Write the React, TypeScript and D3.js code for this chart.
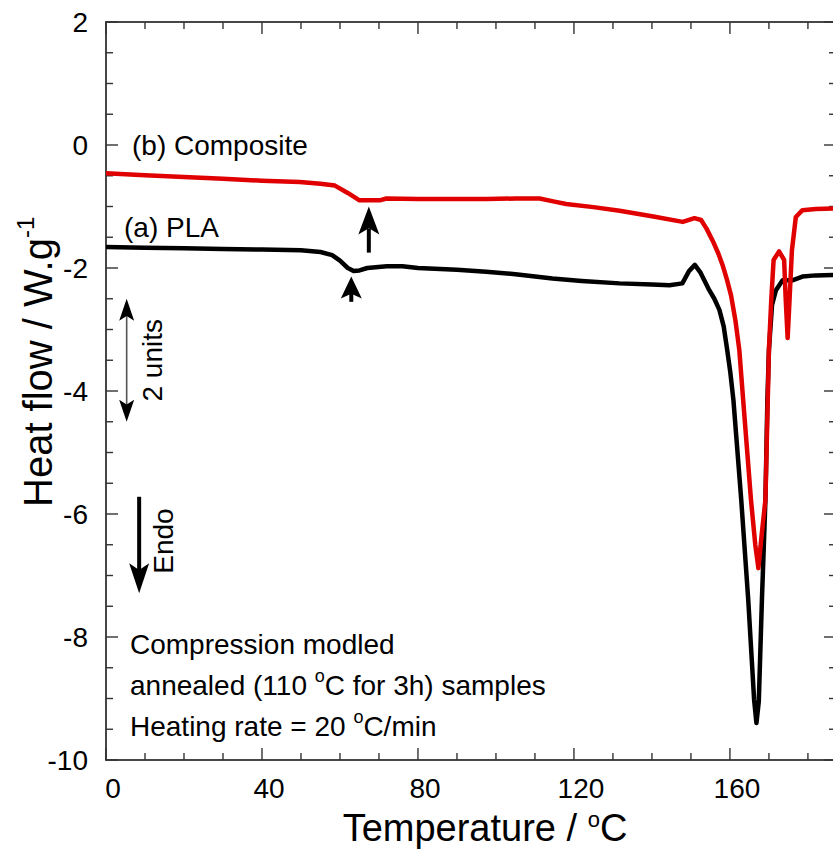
import React from 'react';
import * as d3 from 'd3';

// ---- data ----
const plaTemp = [0, 10, 20, 30, 40, 50, 55, 58, 60, 62, 63.5, 65, 67, 72, 76, 80, 90, 97.5, 105, 114.5, 122, 131.7, 140, 144.5, 147.8, 149.5, 151, 152.5, 154.7, 156, 157.3, 158.4, 159.3, 160.1, 160.9, 162.9, 164.7, 166.2, 166.8, 167.4, 168.2, 169.1, 169.6, 170.0, 170.8, 171.8, 173.5, 176, 178.6, 182, 187.5];
const plaHeat = [-1.66, -1.67, -1.68, -1.69, -1.70, -1.71, -1.74, -1.79, -1.88, -2.0, -2.05, -2.04, -2.0, -1.97, -1.97, -2.0, -2.03, -2.06, -2.1, -2.17, -2.21, -2.25, -2.27, -2.28, -2.25, -2.05, -1.95, -2.08, -2.36, -2.5, -2.68, -2.95, -3.33, -3.7, -4.15, -5.77, -7.4, -9.02, -9.4, -9.05, -7.4, -5.77, -4.15, -3.33, -2.6, -2.36, -2.2, -2.2, -2.14, -2.12, -2.11];

const compTemp = [0, 10, 20, 30, 40, 49.7, 55, 58.7, 62, 65, 70.2, 71.9, 80, 90, 97.5, 105, 111.2, 115, 118, 125, 131.7, 140, 147.9, 150.9, 152.6, 154, 155.6, 157, 158.1, 159.2, 160.3, 161.4, 162.4, 163.4, 164.4, 165.4, 166.5, 167.3, 168.2, 169.1, 169.7, 170.0, 170.6, 171.2, 172.6, 173.9, 174.3, 174.8, 175.3, 175.9, 176.9, 178.6, 182, 187.5];
const compHeat = [-0.46, -0.49, -0.52, -0.55, -0.58, -0.6, -0.63, -0.66, -0.78, -0.9, -0.9, -0.87, -0.88, -0.88, -0.88, -0.87, -0.87, -0.92, -0.96, -1.01, -1.07, -1.16, -1.25, -1.19, -1.22, -1.36, -1.56, -1.76, -1.95, -2.18, -2.45, -2.85, -3.33, -4.15, -4.96, -5.77, -6.5, -6.88, -6.3, -5.77, -4.15, -3.33, -2.52, -1.87, -1.73, -1.87, -2.5, -3.14, -2.5, -1.71, -1.17, -1.06, -1.04, -1.03];

const xMajorTicks = [0, 40, 80, 120, 160];
const yMajorTicks = [2, 0, -2, -4, -6, -8, -10];

// annotation arrows in data units: temperature, tail value, tip value
const glassArrows = [
  { t: 67.4, from: -1.75, to: -1.0, head: 28 },
  { t: 62.9, from: -2.55, to: -2.14, head: 22 },
];
const unitsArrow = { t: 5.3, from: -2.5, to: -4.5 };
const endoArrow = { t: 8.5, from: -5.72, to: -7.29 };

const infoLines = ['Compression modled', 'annealed (110 ', 'Heating rate = 20 '];

const FONT = "'Liberation Sans', Arial, Helvetica, sans-serif";

export default function App() {
  const W = 833, H = 854;
  const x = d3.scaleLinear().domain([0, 187.2]).range([106, 836]);
  const y = d3.scaleLinear().domain([-10, 2]).range([760, 22]);
  const [x0, x1] = x.range();
  const [yb, yt] = y.range();

  const line = d3.line<[number, number]>().x(d => x(d[0])).y(d => y(d[1])).curve(d3.curveLinear);
  const plaPts = plaTemp.map((t, i) => [t, plaHeat[i]] as [number, number]);
  const compPts = compTemp.map((t, i) => [t, compHeat[i]] as [number, number]);

  const xMinor = d3.range(0, 188, 10).filter(v => v % 40 !== 0);
  const yMinor = d3.range(-10, 2.001, 0.5).filter(v => Math.abs(v % 2) > 0.01);

  const axisColor = '#333';
  const MAJ = 12, MIN = 7;

  const arrowHead = (cx: number, tipY: number, w: number, h: number, dir: 1 | -1) => {
    const back = tipY + dir * h;
    const notch = tipY + dir * h * 0.78;
    return `M${cx},${tipY} L${cx - w / 2},${back} L${cx},${notch} L${cx + w / 2},${back} Z`;
  };

  return (
    <svg width={W} height={H} style={{ position: 'absolute', left: 0, top: 0, background: '#fff' }} fontFamily={FONT}>
      <defs>
        <clipPath id="plotclip">
          <rect x={x0} y={yt} width={x1 - x0} height={yb - yt} />
        </clipPath>
      </defs>

      <rect x={x0} y={yt} width={x1 - x0} height={yb - yt} fill="none" stroke={axisColor} strokeWidth={1.8} />

      {xMajorTicks.map(v => (
        <g key={'xM' + v}>
          <line x1={x(v)} x2={x(v)} y1={yb} y2={yb - MAJ} stroke={axisColor} strokeWidth={1.4} />
          <line x1={x(v)} x2={x(v)} y1={yt} y2={yt + MAJ} stroke={axisColor} strokeWidth={1.4} />
          <text x={x(v) + 7} y={798} fontSize={28} textAnchor="middle" fill="#000">{v}</text>
        </g>
      ))}
      {xMinor.map(v => (
        <g key={'xm' + v}>
          <line x1={x(v)} x2={x(v)} y1={yb} y2={yb - MIN} stroke={axisColor} strokeWidth={1.4} />
          <line x1={x(v)} x2={x(v)} y1={yt} y2={yt + MIN} stroke={axisColor} strokeWidth={1.4} />
        </g>
      ))}

      {yMajorTicks.map(v => (
        <g key={'yM' + v}>
          <line x1={x0} x2={x0 + MAJ} y1={y(v)} y2={y(v)} stroke={axisColor} strokeWidth={1.4} />
          <line x1={x1} x2={x1 - MAJ} y1={y(v)} y2={y(v)} stroke={axisColor} strokeWidth={1.4} />
          <text x={88} y={y(v) + 10} fontSize={28} textAnchor="end" fill="#000">{v}</text>
        </g>
      ))}
      {yMinor.map(v => (
        <g key={'ym' + v}>
          <line x1={x0} x2={x0 + MIN} y1={y(v)} y2={y(v)} stroke={axisColor} strokeWidth={1.4} />
          <line x1={x1} x2={x1 - MIN} y1={y(v)} y2={y(v)} stroke={axisColor} strokeWidth={1.4} />
        </g>
      ))}

      <g clipPath="url(#plotclip)">
        <path d={line(plaPts) || ''} fill="none" stroke="#000" strokeWidth={4.5} strokeLinejoin="round" strokeLinecap="round" />
        <path d={line(compPts) || ''} fill="none" stroke="#e00000" strokeWidth={4.5} strokeLinejoin="round" strokeLinecap="round" />
      </g>

      {glassArrows.map((a, i) => (
        <g key={'ga' + i}>
          <line x1={x(a.t)} x2={x(a.t)} y1={y(a.from)} y2={y(a.to) + a.head - 6} stroke="#000" strokeWidth={4} />
          <path d={arrowHead(x(a.t), y(a.to), 21, a.head, 1)} fill="#000" />
        </g>
      ))}

      <g>
        <line x1={x(unitsArrow.t)} x2={x(unitsArrow.t)} y1={y(unitsArrow.from) + 12} y2={y(unitsArrow.to) - 12} stroke="#555" strokeWidth={1.6} />
        <path d={arrowHead(x(unitsArrow.t), y(unitsArrow.from), 15, 22, 1)} fill="#000" />
        <path d={arrowHead(x(unitsArrow.t), y(unitsArrow.to), 15, 22, -1)} fill="#000" />
        <text transform={`translate(162, ${(y(unitsArrow.from) + y(unitsArrow.to)) / 2}) rotate(-90)`} fontSize={28} textAnchor="middle" fill="#000">2 units</text>
      </g>

      <g>
        <line x1={x(endoArrow.t)} x2={x(endoArrow.t)} y1={y(endoArrow.from)} y2={y(endoArrow.to) - 20} stroke="#000" strokeWidth={4} />
        <path d={arrowHead(x(endoArrow.t), y(endoArrow.to), 20, 30, -1)} fill="#000" />
        <text transform={`translate(173, 541) rotate(-90)`} fontSize={28} textAnchor="middle" fill="#000">Endo</text>
      </g>

      <text x={132} y={155} fontSize={28} fill="#000">(b) Composite</text>
      <text x={124} y={237} fontSize={28} fill="#000">(a) PLA</text>

      <text x={130} y={654} fontSize={28} fill="#000">{infoLines[0]}</text>
      <text x={130} y={695} fontSize={28} fill="#000">
        {infoLines[1]}
        <tspan fontSize={18} dy={-13}>o</tspan>
        <tspan dy={13}>C for 3h) samples</tspan>
      </text>
      <text x={130} y={736} fontSize={28} fill="#000">
        {infoLines[2]}
        <tspan fontSize={18} dy={-13}>o</tspan>
        <tspan dy={13}>C/min</tspan>
      </text>

      <text x={485} y={841} fontSize={38} textAnchor="middle" fill="#000">
        Temperature / <tspan fontSize={22} dy={-14}>o</tspan><tspan dy={14}>C</tspan>
      </text>
      <text transform="translate(52, 507) rotate(-90)" fontSize={40} textAnchor="start" fill="#000">
        Heat flow / W.g<tspan fontSize={24} dy={-18}>-1</tspan>
      </text>
    </svg>
  );
}
